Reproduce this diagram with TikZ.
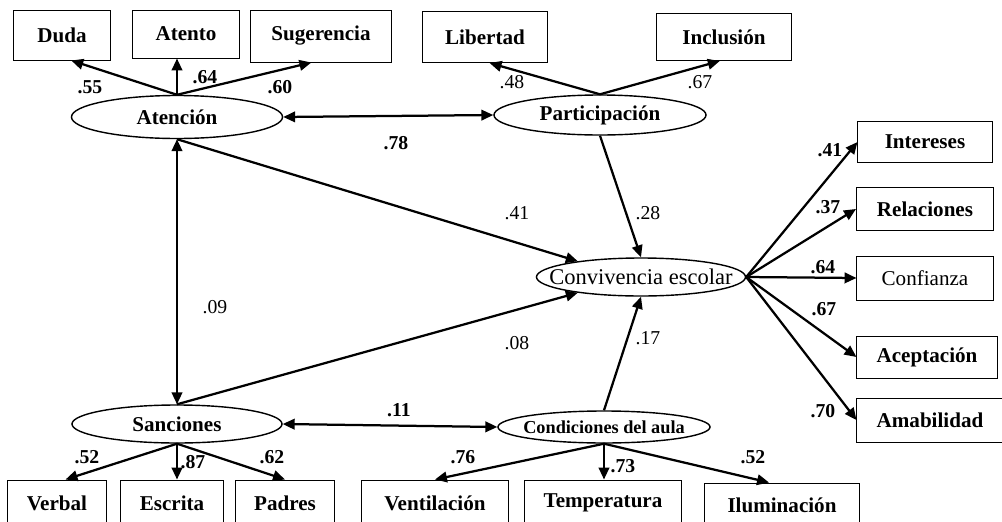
\documentclass[tikz,border=0pt]{standalone}
\usepackage{fontspec}
\setmainfont{Liberation Serif}
\usetikzlibrary{shapes.geometric,arrows.meta}
\begin{document}
\begin{tikzpicture}[x=0.025cm,y=-0.025cm]

\tikzstyle{obsnode} = [draw,line width=0.7pt,inner sep=0,font={\fontsize{15}{17}\selectfont\bfseries}]
\tikzstyle{latnode} = [draw,ellipse,line width=1pt,inner sep=0,font={\fontsize{15}{17}\selectfont\bfseries}]
\tikzstyle{coefnode} = [inner sep=0,font={\fontsize{14}{16}\selectfont\bfseries}]
\tikzstyle{coefplain} = [inner sep=0,font={\fontsize{14}{16}\selectfont}]
\tikzstyle{black_arrow_edge} = [-{Triangle[length=8.5pt,width=7.5pt]}, draw=black, line width=1.6pt]
\tikzstyle{both_arrow_edge} = [{Triangle[length=8.5pt,width=7.5pt]}-{Triangle[length=8.5pt,width=7.5pt]}, draw=black, line width=1.6pt]

\useasboundingbox (0,0) rectangle (1002,521);

% latent variables
\node [latnode,minimum width=5.275cm,minimum height=1.075cm] (atn) at (177,117) {\makebox[0pt]{Atención}};
\node [latnode,minimum width=5.3cm,minimum height=1cm] (part) at (600,115) {\makebox[0pt]{Participación}};
\node [latnode,minimum width=5.225cm,minimum height=0.95cm,font={\fontsize{16}{18}\selectfont}] (conv) at (641,277) {\makebox[0pt]{Convivencia escolar}};
\node [latnode,minimum width=5.25cm,minimum height=0.95cm] (sanc) at (177,424) {\makebox[0pt]{Sanciones}};
\node [latnode,minimum width=5.3cm,minimum height=0.8cm,font={\fontsize{13}{15}\selectfont\bfseries}] (cond) at (604,427) {\makebox[0pt]{Condiciones del aula}};

% indicators
\node [obsnode,minimum width=2.4cm,minimum height=1.25cm] (duda) at (62,35) {Duda};
\node [obsnode,minimum width=2.675cm,minimum height=1.2cm] (atento) at (186,34) {Atento};
\node [obsnode,minimum width=3.525cm,minimum height=1.3cm] (sug) at (321,36) {Sugerencia};
\node [obsnode,minimum width=3.125cm,minimum height=1.275cm] (lib) at (485,37) {Libertad};
\node [obsnode,minimum width=3.35cm,minimum height=1.175cm] (incl) at (724,37) {Inclusión};

\node [obsnode,minimum width=3.35cm,minimum height=1.025cm] (inter) at (925,142) {Intereses};
\node [obsnode,minimum width=3.425cm,minimum height=1.075cm] (rel) at (925,209) {Relaciones};
\node [obsnode,minimum width=3.4cm,minimum height=1.1cm,font={\fontsize{15}{17}\selectfont}] (conf) at (925,278) {Confianza};
\node [obsnode,minimum width=3.5cm,minimum height=1.05cm] (acep) at (927,357) {Aceptación};
\node [obsnode,minimum width=3.65cm,minimum height=1.1cm] (amab) at (930,420) {Amabilidad};

\node [obsnode,minimum width=2.475cm,minimum height=1.15cm] (verb) at (57,503) {Verbal};
\node [obsnode,minimum width=2.55cm,minimum height=1.15cm] (escr) at (172,503) {Escrita};
\node [obsnode,minimum width=2.45cm,minimum height=1.15cm] (padr) at (285,503) {Padres};
\node [obsnode,minimum width=3.675cm,minimum height=1.15cm] (vent) at (435,503) {Ventilación};
\node [obsnode,minimum width=3.9cm,minimum height=1.15cm] (temp) at (603,503) {Temperatura};
\node [obsnode,minimum width=3.85cm,minimum height=1.1cm] (ilum) at (782,505) {Iluminación};

% loadings
\draw [black_arrow_edge] (atn.north) -- (duda.-70);
\draw [black_arrow_edge] (atn.north) -- (atento.south -| atn.north);
\draw [black_arrow_edge] (atn.north) -- (sug.-110);
\draw [black_arrow_edge] (part.north) -- (lib.-80);
\draw [black_arrow_edge] (part.north) -- (incl.-100);
\draw [black_arrow_edge] (conv.east) -- (inter.west);
\draw [black_arrow_edge] (conv.east) -- (rel.west);
\draw [black_arrow_edge] (conv.east) -- (conf.west);
\draw [black_arrow_edge] (conv.east) -- (acep.west);
\draw [black_arrow_edge] (conv.east) -- (amab.west);
\draw [black_arrow_edge] (sanc.south) -- (verb.70);
\draw [black_arrow_edge] (sanc.south) -- (escr.north -| sanc.south);
\draw [black_arrow_edge] (sanc.south) -- (padr.north);
\draw [black_arrow_edge] (cond.south) -- (vent.north);
\draw [black_arrow_edge] (cond.south) -- (temp.north -| cond.south);
\draw [black_arrow_edge] (cond.south) -- (ilum.120);

% structural paths
\draw [both_arrow_edge] (atn.east) -- (part.west);
\draw [both_arrow_edge] (atn.south) -- (sanc.north);
\draw [both_arrow_edge] (sanc.east) -- (cond.west);
\draw [black_arrow_edge] (atn.south) -- (conv.166);
\draw [black_arrow_edge] (part.south) -- (conv.north);
\draw [black_arrow_edge] (sanc.north) -- (conv.194);
\draw [black_arrow_edge] (cond.north) -- (conv.south);

% coefficients
\node [coefnode] (c1) at (90,87) {.55};
\node [coefnode] (c2) at (205,77) {.64};
\node [coefnode] (c3) at (280,87) {.60};
\node [coefplain] (c4) at (512,82) {.48};
\node [coefplain] (c5) at (700,82) {.67};
\node [coefnode] (c6) at (396,143) {.78};
\node [coefplain] (c7) at (517,213) {.41};
\node [coefplain] (c8) at (648,213) {.28};
\node [coefplain] (c9) at (215,307) {.09};
\node [coefplain] (c10) at (517,343) {.08};
\node [coefplain] (c11) at (648,338) {.17};
\node [coefnode] (c12) at (399,410) {.11};
\node [coefnode] (c13) at (830,150) {.41};
\node [coefnode] (c14) at (828,207) {.37};
\node [coefnode] (c15) at (823,267) {.64};
\node [coefnode] (c16) at (824,309) {.67};
\node [coefnode] (c17) at (823,411) {.70};
\node [coefnode] (c18) at (87,457) {.52};
\node [coefnode] (c19) at (193,462) {.87};
\node [coefnode] (c20) at (272,457) {.62};
\node [coefnode] (c21) at (463,457) {.76};
\node [coefnode] (c22) at (623,466) {.73};
\node [coefnode] (c23) at (753,457) {.52};
\end{tikzpicture}
\end{document}
